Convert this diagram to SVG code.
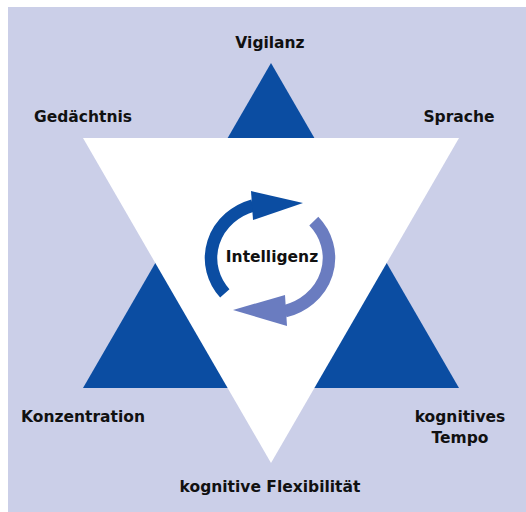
<svg xmlns="http://www.w3.org/2000/svg" width="526" height="512" viewBox="0 0 526 512">
<style>
.lbl{font-family:"DejaVu Sans","Liberation Sans",sans-serif;font-weight:bold;font-size:15.5px;fill:#111;text-anchor:middle}
.dark{fill:#0B4DA2}
.light{fill:#6A7CC0}
</style>
<rect id="background" x="8" y="7" width="518" height="505" fill="#CBCFE8"/>
<g id="triangle-up"><polygon class="dark" points="271,63 83,388 459,388"/></g>
<g id="triangle-down"><polygon fill="#FFFFFF" points="83,138 459,138 271,463"/></g>
<g id="connectors">
<path d="M 224.8 293.4 A 59 55 0 0 1 253 205.4" fill="none" stroke="#0B4DA2" stroke-width="12.5"/>
<polygon class="dark" points="251,191 303,203 253,220"/>
<path d="M 313.8 221.2 A 59 55 0 0 1 285 311.2" fill="none" stroke="#6A7CC0" stroke-width="12.5"/>
<polygon class="light" points="285,295 233,310 287,326"/>
</g>
<g id="node-intelligenz"><text class="lbl" x="272" y="262">Intelligenz</text></g>
<g id="node-vigilanz"><text class="lbl" x="270" y="48">Vigilanz</text></g>
<g id="node-gedaechtnis"><text class="lbl" x="83" y="122">Gedächtnis</text></g>
<g id="node-sprache"><text class="lbl" x="459" y="122">Sprache</text></g>
<g id="node-konzentration"><text class="lbl" x="83" y="422">Konzentration</text></g>
<g id="node-tempo"><text class="lbl" x="460" y="422">kognitives</text><text class="lbl" x="460" y="443">Tempo</text></g>
<g id="node-flexibilitaet"><text class="lbl" x="270" y="492">kognitive Flexibilität</text></g>
</svg>
